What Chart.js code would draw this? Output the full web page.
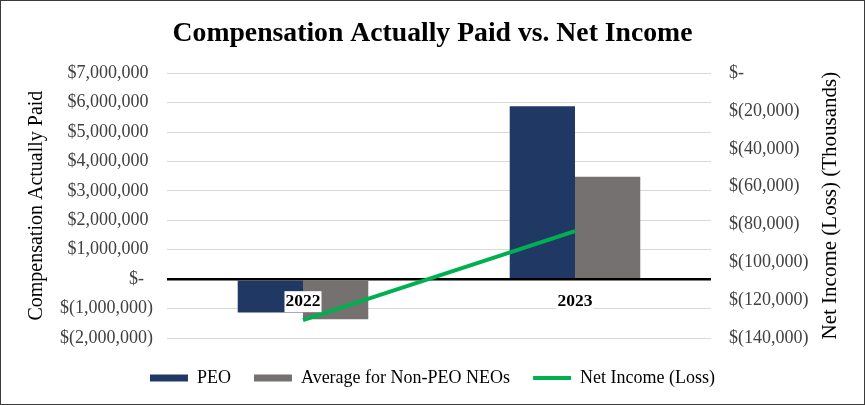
<!DOCTYPE html>
<html>
<head>
<meta charset="utf-8">
<script src="https://cdn.jsdelivr.net/npm/chart.js@4.4.0/dist/chart.umd.min.js"></script>
<style>
html, body { margin: 0; padding: 0; background: #fff; }
#wrap { width: 865px; height: 405px; box-sizing: border-box; border: 1px solid #3a3a3a; }
canvas { display: block; }
</style>
</head>
<body>
<div id="wrap"><canvas id="myChart" width="863" height="403"></canvas></div>
<script>
// values
const years = ["2022", "2023"];
const peoPaid = [-1130000, 5880000];
const neoPaid = [-1360000, 3480000];
const netIncome = [-130600, -83500];

const leftTitle = "Compensation Actually Paid";
const rightTitle = "Net Income (Loss) (Thousands)";

const serif = "'Liberation Serif', 'Times New Roman', serif";

// accounting style: $1,000,000 / $(1,000,000) / $-
function money(v) {
    if (v === 0) return "$-";
    let s = Math.abs(v).toLocaleString("en-US");
    return v < 0 ? "$(" + s + ")" : "$" + s;
}

function moneyLeft(v) {
    // trailing space keeps digits lined up with the ")" of the negatives
    if (v === 0) return "$-  ";
    return v < 0 ? money(v) : money(v) + " ";
}

// legend box: fixed height so the plot ends at the right place, then nudged down
const legendFit = {
    id: "legendFit",
    beforeInit(chart) {
        const orig = chart.legend.fit;
        chart.legend.fit = function() {
            orig.bind(chart.legend)();
            this.height = 66;
        };
    },
    afterLayout(chart) {
        chart.legend.top += 8;
        chart.legend.bottom += 8;
    }
};

// right axis title reads bottom to top, like the left one
const rightAxisTitle = {
    id: "rightAxisTitle",
    afterDraw(chart) {
        const c = chart.ctx;
        const area = chart.chartArea;
        c.save();
        c.translate(829, (area.top + area.bottom) / 2);
        c.rotate(-Math.PI / 2);
        c.fillStyle = "#000";
        c.font = "21px " + serif;
        c.textAlign = "center";
        c.textBaseline = "middle";
        c.fillText(rightTitle, 0, 0);
        c.restore();
    }
};

const ctx = document.getElementById("myChart").getContext("2d");
const myChart = new Chart(ctx, {
    data: {
        labels: years,
        datasets: [{
            type: "bar",
            label: "PEO",
            data: peoPaid,
            backgroundColor: "#1F3864",
            borderWidth: 0,
            yAxisID: "y",
            order: 1,
            categoryPercentage: 0.48,
            barPercentage: 1.0
        }, {
            type: "bar",
            label: "Average for Non-PEO NEOs",
            data: neoPaid,
            backgroundColor: "#767171",
            borderWidth: 0,
            yAxisID: "y",
            order: 1,
            categoryPercentage: 0.48,
            barPercentage: 1.0
        }, {
            type: "line",
            label: "Net Income (Loss)",
            data: netIncome,
            borderColor: "#00B050",
            backgroundColor: "#00B050",
            borderWidth: 4,
            pointRadius: 0,
            tension: 0,
            yAxisID: "y1",
            order: 0
        }]
    },
    options: {
        responsive: false,
        animation: false,
        layout: { padding: 0 },
        plugins: {
            tooltip: { enabled: false },
            title: {
                display: true,
                text: "Compensation Actually Paid vs. Net Income",
                color: "#000",
                font: { family: serif, size: 27.7, weight: "bold" },
                padding: { top: 16, bottom: 23 }
            },
            legend: {
                position: "bottom",
                labels: {
                    usePointStyle: true,
                    pointStyleWidth: 38,
                    boxHeight: 7,
                    padding: 23,
                    color: "#000",
                    font: { family: serif, size: 18 },
                    sort: (a, b) => a.datasetIndex - b.datasetIndex,
                    generateLabels(chart) {
                        const items = Chart.defaults.plugins.legend.labels.generateLabels(chart);
                        items.forEach(it => {
                            if (it.datasetIndex === 2) {
                                it.pointStyle = "line";
                                it.lineWidth = 4;
                                it.strokeStyle = "#00B050";
                            } else {
                                it.pointStyle = "rect";
                                it.lineWidth = 0;
                            }
                        });
                        return items;
                    }
                }
            }
        },
        scales: {
            x: {
                type: "category",
                position: { y: 0 },
                offset: true,
                grid: { display: false, drawTicks: false },
                border: { display: false },
                ticks: {
                    z: 1,
                    autoSkip: false,
                    maxRotation: 0,
                    color: "#000",
                    font: { family: serif, size: 17.5, weight: "bold" },
                    padding: 12,
                    showLabelBackdrop: true,
                    backdropColor: "#fff",
                    backdropPadding: { x: 1, y: 0 }
                },
                afterFit(s) { s.height = 0; }
            },
            y: {
                position: "left",
                min: -2000000,
                max: 7000000,
                ticks: {
                    stepSize: 1000000,
                    callback: moneyLeft,
                    color: "#404040",
                    font: { family: serif, size: 18 },
                    padding: 14
                },
                grid: {
                    drawTicks: false,
                    color: c => (c.tick && c.tick.value === 0) ? "#000" : "#d9d9d9",
                    lineWidth: c => (c.tick && c.tick.value === 0) ? 2.5 : 1
                },
                border: { display: false },
                title: {
                    display: true,
                    text: leftTitle,
                    color: "#000",
                    font: { family: serif, size: 20 },
                    padding: { top: 24, bottom: 0 }
                },
                afterFit(s) { s.width = 166; }
            },
            y1: {
                position: "right",
                min: -140000,
                max: 0,
                ticks: {
                    stepSize: 20000,
                    callback: money,
                    color: "#404040",
                    font: { family: serif, size: 18 },
                    padding: 18
                },
                grid: { display: false, drawTicks: false },
                border: { display: false },
                afterFit(s) { s.width = 153; }
            }
        }
    },
    plugins: [legendFit, rightAxisTitle]
});
</script>
</body>
</html>
